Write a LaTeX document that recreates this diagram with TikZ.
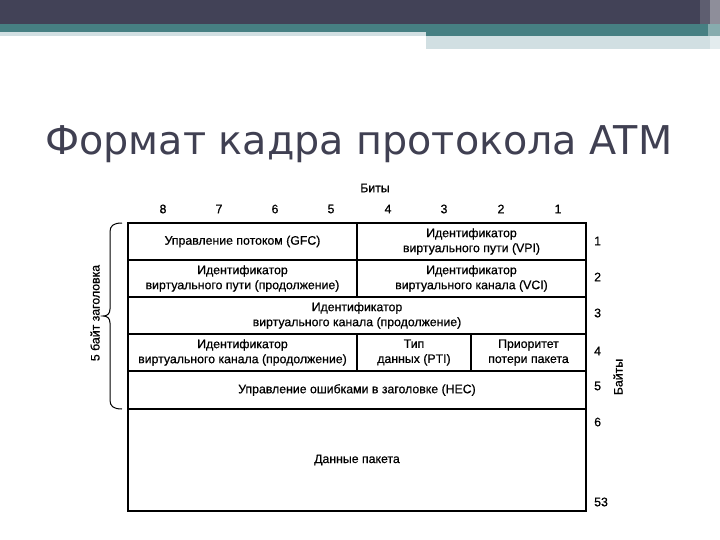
\documentclass[tikz,border=0pt]{standalone}
\usepackage{fontspec}
\newfontfamily\titlefont{DejaVu Sans}
\newfontfamily\tabfont[FakeBold=0.6]{Liberation Sans}
\definecolor{barDark}{HTML}{424257}
\definecolor{barTeal}{HTML}{467F82}
\definecolor{barLight}{HTML}{D1DFE2}
\definecolor{titleCol}{HTML}{404052}
\begin{document}
\begin{tikzpicture}[x=1pt,y=-1pt,
  cell/.style={draw=black,line width=1.3pt,rectangle,inner sep=0pt,align=center,
    font=\tabfont\fontsize{12.3}{15}\selectfont},
  lbl/.style={inner sep=0pt,font=\tabfont\fontsize{12.3}{15}\selectfont},
  numlbl/.style={inner sep=0pt,anchor=west,font=\tabfont\fontsize{12.3}{15}\selectfont}]
\useasboundingbox (0,0) rectangle (720,540);
\fill[white] (0,0) rectangle (720,540);
% top bars
\fill[barDark] (0,0) rectangle (720,24);
\fill[barTeal] (0,24) rectangle (720,32);
\fill[barTeal] (426,24) rectangle (720,36);
\fill[barLight] (0,32) rectangle (426,36);
\fill[barLight] (426,36) rectangle (720,49);
\fill[barDark!85!white] (700,0) rectangle (720,24);
\fill[barDark!60!white] (710,0) rectangle (720,24);
\fill[barTeal!65!white] (708,24) rectangle (720,36);
\fill[barLight!60!white] (710,36) rectangle (720,49);
% title
\node[anchor=base west,inner sep=0pt,text=titleCol] (title) at (45,155)
  {\resizebox{627pt}{!}{\titlefont Формат кадра протокола ATM}};
% header
\node[lbl] (bits) at (375,188) {Биты};
\node[lbl] (b8) at (163,209) {8};
\node[lbl] (b7) at (219,209) {7};
\node[lbl] (b6) at (275,209) {6};
\node[lbl] (b5) at (331,209) {5};
\node[lbl] (b4) at (388,209) {4};
\node[lbl] (b3) at (444,209) {3};
\node[lbl] (b2) at (501,209) {2};
\node[lbl] (b1) at (558,209) {1};
% row 1
\node[cell,minimum width=229pt,minimum height=37pt] (gfc) at (242.5,241.5) {Управление потоком (GFC)};
\node[cell,minimum width=229pt,minimum height=37pt] (vpi) at (471.5,241.5) {Идентификатор\\виртуального пути (VPI)};
% row 2
\node[cell,minimum width=229pt,minimum height=37pt] (vpic) at (242.5,278.5) {Идентификатор\\виртуального пути (продолжение)};
\node[cell,minimum width=229pt,minimum height=37pt] (vci) at (471.5,278.5) {Идентификатор\\виртуального канала (VCI)};
% row 3
\node[cell,minimum width=458pt,minimum height=37pt] (vcic) at (357,315.5) {Идентификатор\\виртуального канала (продолжение)};
% row 4
\node[cell,minimum width=229pt,minimum height=37pt] (vcic2) at (242.5,352.5) {Идентификатор\\виртуального канала (продолжение)};
\node[cell,minimum width=114pt,minimum height=37pt] (pti) at (414,352.5) {Тип\\данных (PTI)};
\node[cell,minimum width=115pt,minimum height=37pt] (clp) at (528.5,352.5) {Приоритет\\потери пакета};
% row 5
\node[cell,minimum width=458pt,minimum height=38pt] (hec) at (357,390) {Управление ошибками в заголовке (HEC)};
% data
\node[cell,minimum width=458pt,minimum height=102pt] (data) at (357,460) {Данные пакета};
% byte numbers
\node[numlbl] (n1) at (594,241) {1};
\node[numlbl] (n2) at (594,277) {2};
\node[numlbl] (n3) at (594,313) {3};
\node[numlbl] (n4) at (594,351) {4};
\node[numlbl] (n5) at (594,386) {5};
\node[numlbl] (n6) at (594,422) {6};
\node[numlbl] (n53) at (594,502) {53};
\node[lbl,rotate=90] (bytes) at (618,377) {Байты};
% brace
\node[lbl,rotate=90] (hdr) at (95,313) {5 байт заголовка};
\draw[line width=1pt] (122,223) .. controls (113,223) and (110,226) .. (110,232) -- (110,309)
  .. controls (110,314) and (107,316) .. (103,316)
  .. controls (107,316) and (110,318) .. (110,323) -- (110,400)
  .. controls (110,406) and (113,409) .. (122,409);
\end{tikzpicture}
\end{document}
